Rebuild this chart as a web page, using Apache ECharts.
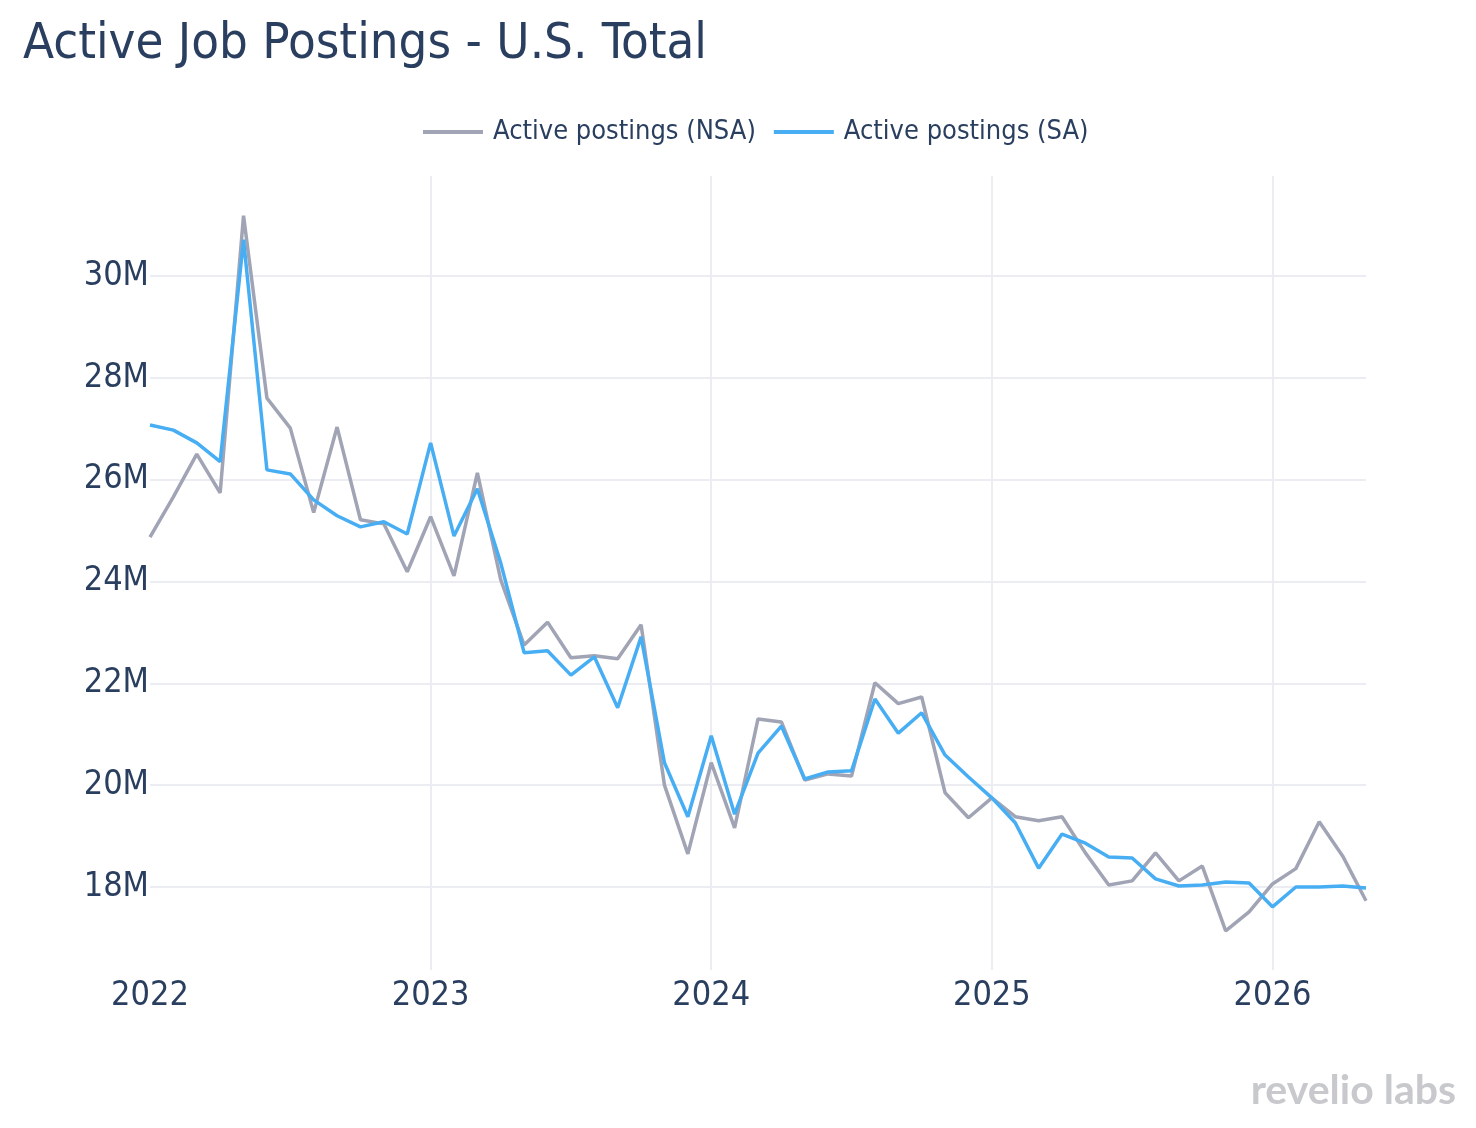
<!DOCTYPE html>
<html>
<head>
<meta charset="utf-8">
<script src="https://cdn.jsdelivr.net/npm/echarts@6/dist/echarts.min.js"></script>
<style>
html,body{margin:0;padding:0;background:#fff;}
#chart{width:1476px;height:1128px;}
</style>
</head>
<body>
<div id="chart"></div>
<script>
const months = [
 '2022-01','2022-02','2022-03','2022-04','2022-05','2022-06','2022-07','2022-08','2022-09','2022-10','2022-11','2022-12',
 '2023-01','2023-02','2023-03','2023-04','2023-05','2023-06','2023-07','2023-08','2023-09','2023-10','2023-11','2023-12',
 '2024-01','2024-02','2024-03','2024-04','2024-05','2024-06','2024-07','2024-08','2024-09','2024-10','2024-11','2024-12',
 '2025-01','2025-02','2025-03','2025-04','2025-05','2025-06','2025-07','2025-08','2025-09','2025-10','2025-11','2025-12',
 '2026-01','2026-02','2026-03','2026-04','2026-05'
];
// values in millions
const nsa = [
 24.87, 25.66, 26.50, 25.74, 31.18, 27.60, 27.01, 25.35, 27.03, 25.21, 25.13, 24.19,
 25.27, 24.11, 26.13, 24.03, 22.75, 23.20, 22.50, 22.54, 22.48, 23.15, 20.00, 18.65,
 20.44, 19.16, 21.30, 21.24, 20.10, 20.22, 20.18, 22.01, 21.60, 21.73, 19.85, 19.36,
 19.75, 19.38, 19.30, 19.38, 18.67, 18.04, 18.12, 18.67, 18.12, 18.41, 17.14, 17.51,
 18.06, 18.36, 19.28, 18.61, 17.73
];
const sa = [
 27.07, 26.97, 26.72, 26.35, 30.71, 26.19, 26.11, 25.60, 25.29, 25.07, 25.17, 24.93,
 26.72, 24.89, 25.82, 24.36, 22.60, 22.64, 22.16, 22.52, 21.52, 22.91, 20.44, 19.38,
 20.97, 19.43, 20.63, 21.16, 20.12, 20.26, 20.28, 21.69, 21.02, 21.42, 20.59, 20.16,
 19.75, 19.26, 18.37, 19.04, 18.86, 18.59, 18.57, 18.16, 18.02, 18.04, 18.10, 18.08,
 17.61, 18.00, 18.00, 18.02, 17.98
];
const seriesNames = ['Active postings (NSA)', 'Active postings (SA)'];
const titleText = 'Active Job Postings - U.S. Total';

const FONT = "'DejaVu Sans Condensed', 'DejaVu Sans', sans-serif";
const TXT = '#2a3f5f';

const chart = echarts.init(document.getElementById('chart'), null, {renderer:'canvas'});
chart.setOption({
  animation: false,
  backgroundColor: '#ffffff',
  title: {
    text: titleText,
    left: 18, top: 14,
    textStyle: {fontFamily: FONT, fontSize: 50.5, fontWeight: 'normal', color: TXT}
  },
  legend: {
    data: seriesNames,
    left: 423, top: 117,
    icon: 'rect',
    itemWidth: 60, itemHeight: 4, itemGap: 18,
    textStyle: {fontFamily: FONT, fontSize: 27, color: TXT, lineHeight: 30, padding: [0,0,0,5]},
    padding: 0
  },
  grid: {left: 150, right: 110, top: 176, bottom: 158, containLabel: false},
  xAxis: {
    type: 'category',
    data: months,
    boundaryGap: false,
    axisLine: {show: false},
    axisTick: {show: false},
    axisLabel: {
      interval: 11,
      margin: 9,
      fontFamily: FONT, fontSize: 34, color: TXT,
      formatter: function (v) { return v.slice(0, 4); }
    },
    splitLine: {
      show: true,
      interval: function (idx) { return idx % 12 === 0 && idx > 0; },
      lineStyle: {color: '#ebedf2', width: 2}
    }
  },
  yAxis: {
    type: 'value',
    min: 16.37, max: 31.96,
    splitNumber: 8,
    axisLine: {show: false},
    axisTick: {show: false},
    axisLabel: {
      showMinLabel: false, showMaxLabel: false,
      margin: 1,
      padding: [8, 0, 0, 0],
      fontFamily: FONT, fontSize: 34, color: TXT,
      formatter: function (v) { return Math.round(v) + 'M'; }
    },
    splitLine: {show: true, showMinLine: false, showMaxLine: false, lineStyle: {color: '#ebedf2', width: 2}}
  },
  graphic: [{
    type: 'text',
    right: 20, bottom: 17,
    style: {text: 'revelio labs', fontFamily: "Lato, 'Open Sans', sans-serif", fontWeight: 'bold', fontSize: 41, fill: '#c8c9cd'}
  }],
  series: [
    {
      name: seriesNames[0], type: 'line', data: nsa,
      showSymbol: false, symbol: 'none',
      lineStyle: {color: '#a0a4b4', width: 3.5},
      itemStyle: {color: '#a0a4b4'},
      z: 2
    },
    {
      name: seriesNames[1], type: 'line', data: sa,
      showSymbol: false, symbol: 'none',
      lineStyle: {color: '#48aef4', width: 3.5},
      itemStyle: {color: '#48aef4'},
      z: 3
    }
  ]
});
</script>
</body>
</html>
